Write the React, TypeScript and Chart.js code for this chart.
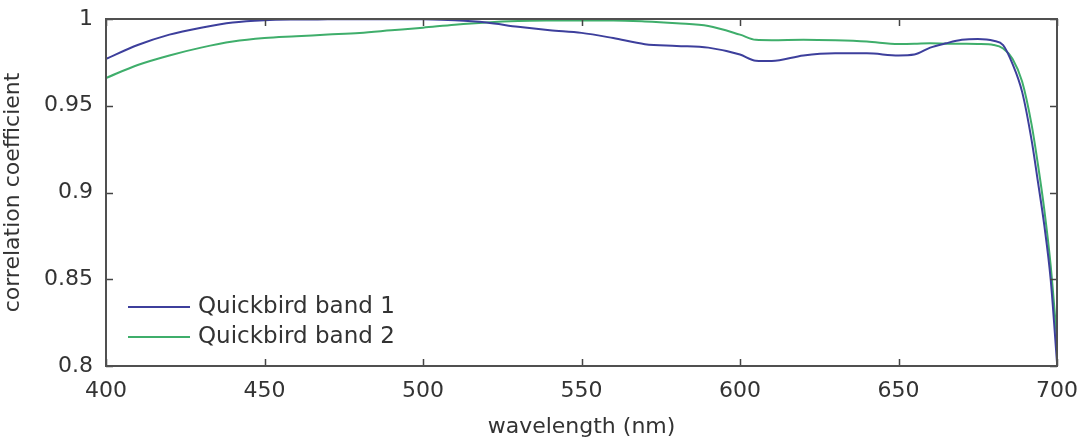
import React, { useEffect, useRef } from "react";
import { Chart, registerables } from "chart.js";

Chart.register(...registerables);

const wavelengths = [400, 410, 420, 430, 440, 450, 460, 470, 480, 490, 500, 510, 520, 530, 540, 550, 560, 570, 580, 590, 600, 605, 610, 620, 630, 640, 650, 655, 660, 665, 670, 675, 680, 683, 686, 689, 692, 694, 696, 698, 700];

const band1 = [0.977, 0.985, 0.991, 0.995, 0.998, 0.9993, 0.9997, 0.9998, 0.9999, 0.9999, 0.9998, 0.9993, 0.998, 0.9955, 0.9935, 0.992, 0.989, 0.9855, 0.9845, 0.9835, 0.9795, 0.976, 0.9758, 0.979, 0.9802, 0.9802, 0.979, 0.9795, 0.9835, 0.986, 0.988, 0.9885, 0.9875, 0.985, 0.974, 0.958, 0.93, 0.906, 0.881, 0.85, 0.802];

const band2 = [0.966, 0.9735, 0.979, 0.9835, 0.987, 0.989, 0.990, 0.991, 0.992, 0.9935, 0.995, 0.9967, 0.998, 0.9988, 0.9991, 0.9992, 0.9992, 0.9986, 0.9975, 0.996, 0.991, 0.988, 0.9878, 0.988, 0.9877, 0.987, 0.9856, 0.9857, 0.986, 0.9858, 0.9857, 0.9856, 0.985, 0.983, 0.977, 0.964, 0.939, 0.916, 0.89, 0.858, 0.815];

const seriesLabels = ["Quickbird band 1", "Quickbird band 2"];
const seriesColors = ["#3d3f9c", "#3fae6b"];

const xTicks = [400, 450, 500, 550, 600, 650, 700];
const yTicks = [0.8, 0.85, 0.9, 0.95, 1];

const FONT = "'DejaVu Sans', sans-serif";

const frameTicks = {
  id: "frameTicks",
  afterDraw(chart: any) {
    const { ctx, chartArea } = chart;
    const { left, right, top, bottom } = chartArea;
    const xs = chart.scales.x;
    const ys = chart.scales.y;
    ctx.save();
    ctx.strokeStyle = "#444444";
    ctx.lineWidth = 1.5;
    ctx.beginPath();
    xTicks.forEach((v) => {
      const px = Math.round(xs.getPixelForValue(v)) + 0.5;
      ctx.moveTo(px, bottom);
      ctx.lineTo(px, bottom - 7);
      ctx.moveTo(px, top);
      ctx.lineTo(px, top + 7);
    });
    yTicks.forEach((v) => {
      const py = Math.round(ys.getPixelForValue(v)) + 0.5;
      ctx.moveTo(left, py);
      ctx.lineTo(left + 7, py);
      ctx.moveTo(right, py);
      ctx.lineTo(right - 7, py);
    });
    ctx.stroke();
    ctx.strokeStyle = "#505050";
    ctx.lineWidth = 2;
    ctx.strokeRect(left, top, right - left, bottom - top);
    ctx.restore();

    // legend
    ctx.save();
    ctx.font = `23px ${FONT}`;
    ctx.textBaseline = "middle";
    ctx.textAlign = "left";
    chart.data.datasets.forEach((ds: any, i: number) => {
      const y = bottom - 59 + i * 30;
      ctx.strokeStyle = ds.borderColor;
      ctx.lineWidth = 2;
      ctx.beginPath();
      ctx.moveTo(left + 22, y);
      ctx.lineTo(left + 84, y);
      ctx.stroke();
      ctx.fillStyle = "#333333";
      ctx.fillText(ds.label, left + 92, y);
    });
    ctx.restore();
  },
};

export default function App() {
  const ref = useRef<HTMLCanvasElement>(null);

  useEffect(() => {
    if (!ref.current) return;
    const chart = new Chart(ref.current, {
      type: "line",
      data: {
        datasets: [band1, band2].map((vals, i) => ({
          label: seriesLabels[i],
          data: wavelengths.map((w, j) => ({ x: w, y: vals[j] })),
          borderColor: seriesColors[i],
          backgroundColor: seriesColors[i],
          borderWidth: 2,
          pointRadius: 0,
          tension: 0.4,
          cubicInterpolationMode: "monotone" as const,
          fill: false,
        })),
      },
      options: {
        animation: false,
        responsive: false,
        maintainAspectRatio: false,
        layout: { padding: { left: 0, top: 19, right: 28, bottom: 0 } },
        plugins: {
          legend: { display: false },
          tooltip: { enabled: false },
        },
        scales: {
          x: {
            type: "linear",
            min: 400,
            max: 700,
            afterBuildTicks: (scale: any) => {
              scale.ticks = xTicks.map((v) => ({ value: v }));
            },
            afterFit: (scale: any) => {
              scale.height = 74;
            },
            grid: { display: false },
            border: { display: false },
            ticks: {
              color: "#333333",
              font: { family: FONT, size: 22 },
              padding: 4,
              maxRotation: 0,
              callback: (v: any) => String(v),
            },
            title: {
              display: true,
              text: "wavelength (nm)",
              color: "#333333",
              font: { family: FONT, size: 22 },
              padding: { top: 0, bottom: 0 },
            },
          },
          y: {
            type: "linear",
            min: 0.8,
            max: 1,
            afterBuildTicks: (scale: any) => {
              scale.ticks = yTicks.map((v) => ({ value: v }));
            },
            afterFit: (scale: any) => {
              scale.width = 106;
            },
            grid: { display: false },
            border: { display: false },
            ticks: {
              color: "#333333",
              font: { family: FONT, size: 22 },
              padding: 5,
              callback: (v: any) => String(Number(v.toFixed(2))),
            },
            title: {
              display: true,
              text: "correlation coefficient",
              color: "#333333",
              font: { family: FONT, size: 22 },
              padding: { top: 0, bottom: 2 },
            },
          },
        },
      },
      plugins: [frameTicks],
    });
    return () => chart.destroy();
  }, []);

  return (
    <div style={{ position: "fixed", left: 0, top: 0, width: 1085, height: 440, background: "#ffffff" }}>
      <canvas ref={ref} width={1085} height={440} style={{ display: "block" }} />
    </div>
  );
}
